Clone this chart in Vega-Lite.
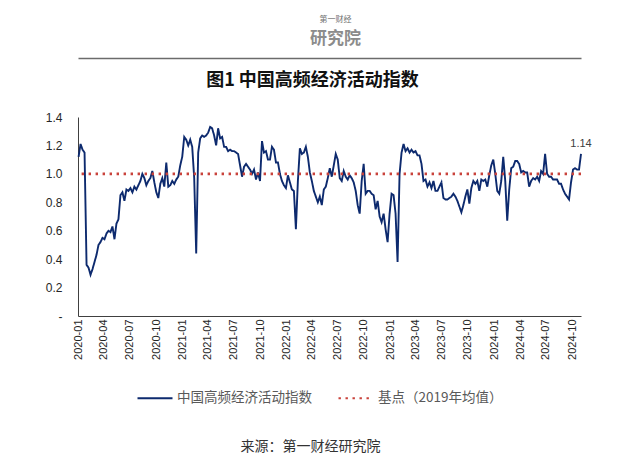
{
"$schema": "https://vega.github.io/schema/vega-lite/v6.json",
"width": 503, "height": 199,
"autosize": {"type": "none"},
"padding": {"left": 78, "top": 117, "right": 59, "bottom": 152},
"background": "white",
"config": {"view": {"stroke": null}, "font": "Noto Sans CJK SC", "axisY": {"labelOverlap": false}, "axis": {"labelOverlap": false}},
"title": {"text": "第一财经", "subtitle": "研究院", "anchor": "middle", "frame": "group", "fontSize": 8, "fontWeight": "normal", "color": "#6f6f6f", "subtitleFontSize": 17, "subtitleColor": "#8c8c8c", "subtitleFontWeight": "bold", "subtitlePadding": 7, "offset": 11, "dx": 6},
"data": {"values": [
{"d":"2020-01-03","v":1.12},{"d":"2020-01-10","v":1.21},{"d":"2020-01-17","v":1.17},{"d":"2020-01-24","v":1.15},{"d":"2020-01-31","v":0.36},
{"d":"2020-02-07","v":0.34},{"d":"2020-02-14","v":0.29},{"d":"2020-02-21","v":0.33},{"d":"2020-02-28","v":0.38},
{"d":"2020-03-06","v":0.43},{"d":"2020-03-13","v":0.50},{"d":"2020-03-20","v":0.52},{"d":"2020-03-27","v":0.55},
{"d":"2020-04-03","v":0.54},{"d":"2020-04-10","v":0.58},{"d":"2020-04-17","v":0.60},{"d":"2020-04-24","v":0.59},
{"d":"2020-05-01","v":0.63},{"d":"2020-05-08","v":0.54},{"d":"2020-05-15","v":0.65},{"d":"2020-05-22","v":0.68},{"d":"2020-05-29","v":0.85},
{"d":"2020-06-05","v":0.87},{"d":"2020-06-12","v":0.81},{"d":"2020-06-19","v":0.89},{"d":"2020-06-26","v":0.88},
{"d":"2020-07-03","v":0.90},{"d":"2020-07-10","v":0.87},{"d":"2020-07-17","v":0.91},{"d":"2020-07-24","v":0.89},{"d":"2020-07-31","v":0.92},
{"d":"2020-08-07","v":0.95},{"d":"2020-08-14","v":1.00},{"d":"2020-08-21","v":0.97},{"d":"2020-08-28","v":0.92},
{"d":"2020-09-04","v":0.95},{"d":"2020-09-11","v":0.97},{"d":"2020-09-18","v":1.02},{"d":"2020-09-25","v":0.94},
{"d":"2020-10-02","v":0.87},{"d":"2020-10-09","v":0.83},{"d":"2020-10-16","v":0.93},{"d":"2020-10-23","v":0.97},{"d":"2020-10-30","v":0.91},
{"d":"2020-11-06","v":1.08},{"d":"2020-11-13","v":0.91},{"d":"2020-11-20","v":0.92},{"d":"2020-11-27","v":0.95},
{"d":"2020-12-04","v":0.93},{"d":"2020-12-11","v":0.96},{"d":"2020-12-18","v":0.98},{"d":"2020-12-25","v":1.06},
{"d":"2021-01-01","v":1.12},{"d":"2021-01-08","v":1.26},{"d":"2021-01-15","v":1.24},{"d":"2021-01-22","v":1.20},{"d":"2021-01-29","v":1.24},
{"d":"2021-02-05","v":1.19},{"d":"2021-02-12","v":0.97},{"d":"2021-02-19","v":0.44},{"d":"2021-02-26","v":1.15},
{"d":"2021-03-05","v":1.25},{"d":"2021-03-12","v":1.27},{"d":"2021-03-19","v":1.26},{"d":"2021-03-26","v":1.27},
{"d":"2021-04-02","v":1.29},{"d":"2021-04-09","v":1.33},{"d":"2021-04-16","v":1.32},{"d":"2021-04-23","v":1.27},{"d":"2021-04-30","v":1.20},
{"d":"2021-05-07","v":1.32},{"d":"2021-05-14","v":1.25},{"d":"2021-05-21","v":1.26},{"d":"2021-05-28","v":1.19},
{"d":"2021-06-04","v":1.19},{"d":"2021-06-11","v":1.16},{"d":"2021-06-18","v":1.17},{"d":"2021-06-25","v":1.16},
{"d":"2021-07-02","v":1.16},{"d":"2021-07-09","v":1.15},{"d":"2021-07-16","v":1.14},{"d":"2021-07-23","v":1.06},{"d":"2021-07-30","v":0.98},
{"d":"2021-08-06","v":1.05},{"d":"2021-08-13","v":1.07},{"d":"2021-08-20","v":1.05},{"d":"2021-08-27","v":1.03},
{"d":"2021-09-03","v":1.00},{"d":"2021-09-10","v":1.03},{"d":"2021-09-17","v":0.96},{"d":"2021-09-24","v":1.01},
{"d":"2021-10-01","v":0.95},{"d":"2021-10-08","v":1.23},{"d":"2021-10-15","v":1.15},{"d":"2021-10-22","v":1.16},{"d":"2021-10-29","v":1.10},
{"d":"2021-11-05","v":1.10},{"d":"2021-11-12","v":1.19},{"d":"2021-11-19","v":1.17},{"d":"2021-11-26","v":1.08},
{"d":"2021-12-03","v":1.08},{"d":"2021-12-10","v":1.00},{"d":"2021-12-17","v":0.95},{"d":"2021-12-24","v":0.92},{"d":"2021-12-31","v":0.90},
{"d":"2022-01-07","v":0.99},{"d":"2022-01-14","v":0.94},{"d":"2022-01-21","v":0.89},{"d":"2022-01-28","v":0.88},
{"d":"2022-02-04","v":0.61},{"d":"2022-02-11","v":0.95},{"d":"2022-02-18","v":1.18},{"d":"2022-02-25","v":1.14},
{"d":"2022-03-04","v":1.15},{"d":"2022-03-11","v":1.19},{"d":"2022-03-18","v":1.12},{"d":"2022-03-25","v":1.01},
{"d":"2022-04-01","v":0.95},{"d":"2022-04-08","v":0.88},{"d":"2022-04-15","v":0.84},{"d":"2022-04-22","v":0.80},{"d":"2022-04-29","v":0.84},
{"d":"2022-05-06","v":0.78},{"d":"2022-05-13","v":0.89},{"d":"2022-05-20","v":0.91},{"d":"2022-05-27","v":0.97},
{"d":"2022-06-03","v":1.04},{"d":"2022-06-10","v":0.98},{"d":"2022-06-17","v":1.06},{"d":"2022-06-24","v":1.14},
{"d":"2022-07-01","v":1.10},{"d":"2022-07-08","v":0.97},{"d":"2022-07-15","v":0.95},{"d":"2022-07-22","v":1.02},{"d":"2022-07-29","v":0.98},
{"d":"2022-08-05","v":0.96},{"d":"2022-08-12","v":0.99},{"d":"2022-08-19","v":0.97},{"d":"2022-08-26","v":0.94},
{"d":"2022-09-02","v":0.88},{"d":"2022-09-09","v":0.78},{"d":"2022-09-16","v":0.72},{"d":"2022-09-23","v":0.95},{"d":"2022-09-30","v":1.07},
{"d":"2022-10-07","v":0.86},{"d":"2022-10-14","v":0.88},{"d":"2022-10-21","v":0.88},{"d":"2022-10-28","v":0.86},
{"d":"2022-11-04","v":0.85},{"d":"2022-11-11","v":0.75},{"d":"2022-11-18","v":0.81},{"d":"2022-11-25","v":0.70},
{"d":"2022-12-02","v":0.66},{"d":"2022-12-09","v":0.72},{"d":"2022-12-16","v":0.61},{"d":"2022-12-23","v":0.52},{"d":"2022-12-30","v":0.72},
{"d":"2023-01-06","v":0.86},{"d":"2023-01-13","v":0.85},{"d":"2023-01-20","v":0.72},{"d":"2023-01-27","v":0.38},
{"d":"2023-02-03","v":1.00},{"d":"2023-02-10","v":1.15},{"d":"2023-02-17","v":1.21},{"d":"2023-02-24","v":1.16},
{"d":"2023-03-03","v":1.18},{"d":"2023-03-10","v":1.15},{"d":"2023-03-17","v":1.17},{"d":"2023-03-24","v":1.15},{"d":"2023-03-31","v":1.16},
{"d":"2023-04-07","v":1.13},{"d":"2023-04-14","v":1.13},{"d":"2023-04-21","v":1.07},{"d":"2023-04-28","v":0.95},
{"d":"2023-05-05","v":0.96},{"d":"2023-05-12","v":0.91},{"d":"2023-05-19","v":0.94},{"d":"2023-05-26","v":0.90},
{"d":"2023-06-02","v":0.95},{"d":"2023-06-09","v":0.88},{"d":"2023-06-16","v":0.88},{"d":"2023-06-23","v":0.91},{"d":"2023-06-30","v":0.94},
{"d":"2023-07-07","v":0.83},{"d":"2023-07-14","v":0.82},{"d":"2023-07-21","v":0.82},{"d":"2023-07-28","v":0.83},
{"d":"2023-08-04","v":0.84},{"d":"2023-08-11","v":0.86},{"d":"2023-08-18","v":0.84},{"d":"2023-08-25","v":0.81},
{"d":"2023-09-01","v":0.77},{"d":"2023-09-08","v":0.73},{"d":"2023-09-15","v":0.78},{"d":"2023-09-22","v":0.84},{"d":"2023-09-29","v":0.89},
{"d":"2023-10-06","v":0.79},{"d":"2023-10-13","v":0.90},{"d":"2023-10-20","v":0.95},{"d":"2023-10-27","v":0.93},
{"d":"2023-11-03","v":0.95},{"d":"2023-11-10","v":0.88},{"d":"2023-11-17","v":0.96},{"d":"2023-11-24","v":0.95},
{"d":"2023-12-01","v":0.96},{"d":"2023-12-08","v":0.91},{"d":"2023-12-15","v":0.99},{"d":"2023-12-22","v":1.06},{"d":"2023-12-29","v":1.10},
{"d":"2024-01-05","v":1.00},{"d":"2024-01-12","v":0.88},{"d":"2024-01-19","v":0.86},{"d":"2024-01-26","v":0.95},
{"d":"2024-02-02","v":1.12},{"d":"2024-02-09","v":0.95},{"d":"2024-02-16","v":0.67},{"d":"2024-02-23","v":0.89},
{"d":"2024-03-01","v":1.04},{"d":"2024-03-08","v":1.05},{"d":"2024-03-15","v":1.09},{"d":"2024-03-22","v":1.09},{"d":"2024-03-29","v":1.07},
{"d":"2024-04-05","v":1.01},{"d":"2024-04-12","v":1.02},{"d":"2024-04-19","v":1.01},{"d":"2024-04-26","v":1.01},
{"d":"2024-05-03","v":0.91},{"d":"2024-05-10","v":0.95},{"d":"2024-05-17","v":0.97},{"d":"2024-05-24","v":0.96},{"d":"2024-05-31","v":0.98},
{"d":"2024-06-07","v":0.95},{"d":"2024-06-14","v":1.02},{"d":"2024-06-21","v":1.00},{"d":"2024-06-28","v":1.14},
{"d":"2024-07-05","v":1.00},{"d":"2024-07-12","v":0.98},{"d":"2024-07-19","v":0.98},{"d":"2024-07-26","v":0.96},
{"d":"2024-08-02","v":0.96},{"d":"2024-08-09","v":0.96},{"d":"2024-08-16","v":0.93},{"d":"2024-08-23","v":0.93},{"d":"2024-08-30","v":0.89},
{"d":"2024-09-06","v":0.86},{"d":"2024-09-13","v":0.84},{"d":"2024-09-20","v":0.82},{"d":"2024-09-27","v":0.94},
{"d":"2024-10-04","v":1.03},{"d":"2024-10-11","v":1.04},{"d":"2024-10-18","v":1.03},{"d":"2024-10-25","v":1.03},
{"d":"2024-11-01","v":1.14}
]},
"resolve": {"axis": {"x": "independent"}},
"layer": [
{
 "mark": {"type": "line", "strokeWidth": 1.9, "color": "#0D2A6E"},
 "encoding": {
  "x": {"field": "d", "type": "temporal",
   "scale": {"type": "utc", "domain": [{"year": 2020, "month": 1, "date": 1, "utc": true}, {"year": 2024, "month": 11, "date": 1, "utc": true}]},
   "axis": {
    "values": [
     {"year":2020,"month":1,"date":1,"utc":true},{"year":2020,"month":4,"date":1,"utc":true},{"year":2020,"month":7,"date":1,"utc":true},{"year":2020,"month":10,"date":1,"utc":true},
     {"year":2021,"month":1,"date":1,"utc":true},{"year":2021,"month":4,"date":1,"utc":true},{"year":2021,"month":7,"date":1,"utc":true},{"year":2021,"month":10,"date":1,"utc":true},
     {"year":2022,"month":1,"date":1,"utc":true},{"year":2022,"month":4,"date":1,"utc":true},{"year":2022,"month":7,"date":1,"utc":true},{"year":2022,"month":10,"date":1,"utc":true},
     {"year":2023,"month":1,"date":1,"utc":true},{"year":2023,"month":4,"date":1,"utc":true},{"year":2023,"month":7,"date":1,"utc":true},{"year":2023,"month":10,"date":1,"utc":true},
     {"year":2024,"month":1,"date":1,"utc":true},{"year":2024,"month":4,"date":1,"utc":true},{"year":2024,"month":7,"date":1,"utc":true},{"year":2024,"month":10,"date":1,"utc":true}
    ],
    "format": "%Y-%m", "labelAngle": -90, "labelAlign": "right", "labelBaseline": "middle",
    "labelFont": "Liberation Sans", "labelFontSize": 11, "labelColor": "#262626", "labelPadding": 3,
    "labelOverlap": false, "labelBound": false, "labelFlush": false,
    "ticks": false, "grid": false, "domainColor": "#404040", "domainWidth": 1,
    "title": "来源：第一财经研究院", "titleFont": "Noto Sans CJK SC", "titleFontSize": 14, "titleFontWeight": "normal",
    "titleColor": "#333333", "titleX": 232, "titleY": 130, "titleAlign": "center", "titleBaseline": "middle", "titleAngle": 0
   }
  },
  "y": {"field": "v", "type": "quantitative",
   "scale": {"domain": [0, 1.4], "nice": false},
   "axis": {"values": [0, 0.2, 0.4, 0.6, 0.8, 1, 1.2, 1.4],
    "labelExpr": "datum.value == 0 ? '-' : format(datum.value, '.1f')",
    "labelOverlap": false, "labelBound": false, "labelFlush": false,
    "labelFont": "Liberation Sans", "labelFontSize": 12, "labelColor": "#262626", "labelPadding": 16,
    "ticks": false, "grid": false, "domainColor": "#404040", "domainWidth": 1, "title": null}
  },
  "color": {"datum": "中国高频经济活动指数", "type": "nominal",
   "scale": {"domain": ["中国高频经济活动指数", "基点（2019年均值）"], "range": ["#0D2A6E", "#C9423B"]},
   "legend": {"orient": "none", "legendX": 58, "legendY": 262, "direction": "horizontal", "title": null,
    "symbolType": "stroke", "symbolSize": 1225, "symbolStrokeWidth": 2.2,
    "labelFont": "Noto Sans CJK SC", "labelFontSize": 13.5, "labelColor": "#595959", "labelOffset": 3, "columnPadding": 22}
  },
  "strokeDash": {"datum": "中国高频经济活动指数", "type": "nominal",
   "scale": {"domain": ["中国高频经济活动指数", "基点（2019年均值）"], "range": [[1, 0], [2.4, 4.6]]},
   "legend": {"orient": "none", "legendX": 58, "legendY": 262, "direction": "horizontal", "title": null}
  }
 }
},
{
 "data": {"values": [{"v": 1}]},
 "mark": {"type": "rule", "strokeWidth": 2.6},
 "encoding": {
  "y": {"field": "v", "type": "quantitative",
   "axis": {"values": [0, 0.2, 0.4, 0.6, 0.8, 1, 1.2, 1.4],
    "labelExpr": "datum.value == 0 ? '-' : format(datum.value, '.1f')",
    "labelOverlap": false, "labelBound": false, "labelFlush": false,
    "labelFont": "Liberation Sans", "labelFontSize": 12, "labelColor": "#262626", "labelPadding": 16,
    "ticks": false, "grid": false, "domainColor": "#404040", "domainWidth": 1, "title": null}},
  "color": {"datum": "基点（2019年均值）", "type": "nominal"},
  "strokeDash": {"datum": "基点（2019年均值）", "type": "nominal"}
 }
},
{
 "data": {"values": [{"d": "2024-11-01", "v": 1.14}]},
 "mark": {"type": "text", "dy": -10, "font": "Liberation Sans", "fontSize": 11, "color": "#404040"},
 "encoding": {
  "x": {"field": "d", "type": "temporal",
   "axis": {"orient": "top", "offset": 59, "domain": true, "labels": false, "ticks": false, "grid": false,
    "domainColor": "#6b6b6b", "domainWidth": 1.5, "domainOpacity": 1,
    "title": "图1  中国高频经济活动指数", "titleFont": "Noto Sans CJK SC", "titleFontSize": 18, "titleFontWeight": "bold",
    "titleColor": "#111111", "titleX": 234, "titleY": 22, "titleAlign": "center", "titleBaseline": "middle", "titleAngle": 0}
  },
  "y": {"field": "v", "type": "quantitative",
   "axis": {"values": [0, 0.2, 0.4, 0.6, 0.8, 1, 1.2, 1.4],
    "labelExpr": "datum.value == 0 ? '-' : format(datum.value, '.1f')",
    "labelOverlap": false, "labelBound": false, "labelFlush": false,
    "labelFont": "Liberation Sans", "labelFontSize": 12, "labelColor": "#262626", "labelPadding": 16,
    "ticks": false, "grid": false, "domainColor": "#404040", "domainWidth": 1, "title": null}},
  "text": {"field": "v", "type": "quantitative", "format": ".2f"}
 }
}
]
}
